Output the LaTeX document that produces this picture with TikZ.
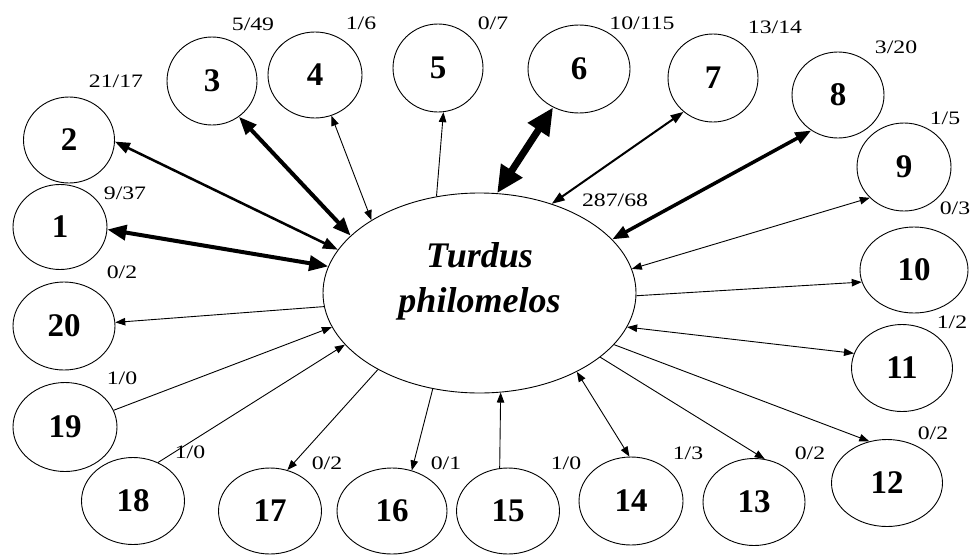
\documentclass[tikz,border=0pt]{standalone}
\usepackage{fontspec}
\setmainfont{Liberation Serif}
\newfontfamily\countfont[FakeStretch=1.25]{Liberation Serif}
\usetikzlibrary{arrows.meta,shapes.geometric}

\tikzset{
  site/.style={ellipse, draw, line width=0.9pt, inner sep=0pt,
    font=\fontsize{33}{33}\selectfont\bfseries},
  hub/.style={ellipse, draw, line width=0.9pt, inner sep=0pt,
    minimum width=313pt, minimum height=200pt},
  hubtext/.style={align=center, inner sep=0pt,
    font=\fontsize{36}{45}\selectfont\bfseries\itshape},
  count/.style={inner sep=0pt, font=\countfont\fontsize{19}{19}\selectfont},
  link/.style={line width=0.9pt, >={Triangle[length=10pt,width=7.5pt]}},
}

\begin{document}
\begin{tikzpicture}[x=1pt, y=-1pt]
  \path[use as bounding box] (0,0) rectangle (973,554);

  % central species
  \node[hub] (c) at (479.5,293) {};
  \node[hubtext] (ct) at (479.5,281) {Turdus\\philomelos};

  % surrounding sites
  \node[site, minimum width=94pt,  minimum height=85pt] (n1)  at (60,227)  {1};
  \node[site, minimum width=91pt,  minimum height=86pt] (n2)  at (69,140)  {2};
  \node[site, minimum width=90pt,  minimum height=88pt] (n3)  at (212,81)  {3};
  \node[site, minimum width=94pt,  minimum height=86pt] (n4)  at (315,75)  {4};
  \node[site, minimum width=90pt,  minimum height=88pt] (n5)  at (438,68)  {5};
  \node[site, minimum width=102pt, minimum height=88pt] (n6)  at (579,69)  {6};
  \node[site, minimum width=90pt,  minimum height=88pt] (n7)  at (713,78)  {7};
  \node[site, minimum width=92pt,  minimum height=86pt] (n8)  at (838,95)  {8};
  \node[site, minimum width=94pt,  minimum height=88pt] (n9)  at (904,167) {9};
  \node[site, minimum width=108pt, minimum height=86pt] (n10) at (914,270) {10};
  \node[site, minimum width=101pt, minimum height=87pt] (n11) at (902,368) {11};
  \node[site, minimum width=111pt, minimum height=87pt] (n12) at (887,483) {12};
  \node[site, minimum width=102pt, minimum height=87pt] (n13) at (754,502) {13};
  \node[site, minimum width=104pt, minimum height=88pt] (n14) at (631,501) {14};
  \node[site, minimum width=103pt, minimum height=86pt] (n15) at (508,511) {15};
  \node[site, minimum width=110pt, minimum height=86pt] (n16) at (392,511) {16};
  \node[site, minimum width=103pt, minimum height=86pt] (n17) at (270,511) {17};
  \node[site, minimum width=103pt, minimum height=87pt] (n18) at (133,501) {18};
  \node[site, minimum width=104pt, minimum height=89pt] (n19) at (65,427)  {19};
  \node[site, minimum width=102pt, minimum height=88pt] (n20) at (64,326)  {20};

  % counts
  \node[count] (k0)  at (615,200) {287/68};
  \node[count] (k1)  at (125,193) {9/37};
  \node[count] (k2)  at (116,81)  {21/17};
  \node[count] (k3)  at (253,24)  {5/49};
  \node[count] (k4)  at (361,23)  {1/6};
  \node[count] (k5)  at (493,23)  {0/7};
  \node[count] (k6)  at (642,23)  {10/115};
  \node[count] (k7)  at (775,27)  {13/14};
  \node[count] (k8)  at (896,47)  {3/20};
  \node[count] (k9)  at (945,118) {1/5};
  \node[count] (k10) at (955,208) {0/3};
  \node[count] (k11) at (952,322) {1/2};
  \node[count] (k12) at (933,433) {0/2};
  \node[count] (k13) at (810,453) {0/2};
  \node[count] (k14) at (688,453) {1/3};
  \node[count] (k15) at (566,463) {1/0};
  \node[count] (k16) at (446,463) {0/1};
  \node[count] (k17) at (327,463) {0/2};
  \node[count] (k18) at (190,452) {1/0};
  \node[count] (k19) at (122,378) {1/0};
  \node[count] (k20) at (122,272) {0/2};

  % heavy two-way links
  \draw[line width=4pt, {Triangle[length=19pt,width=15pt]}-{Triangle[length=19pt,width=15pt]}]
    (n1.-3) -- (c.170.6);
  \draw[line width=2.5pt, {Triangle[length=15pt,width=11pt]}-{Triangle[length=15pt,width=11pt]}]
    (n2.-2) -- (c.163.1);
  \draw[line width=4pt, {Triangle[length=18pt,width=14pt]}-{Triangle[length=18pt,width=14pt]}]
    (n3.-53.6) -- (c.156.2);
  \draw[line width=7pt, {Triangle[length=27pt,width=24pt]}-{Triangle[length=27pt,width=24pt]}]
    (n6.-124) -- (c.80);
  \draw[line width=2pt, {Triangle[length=13pt,width=9pt]}-{Triangle[length=13pt,width=9pt]}]
    (n7.-131) -- (c.51.9);
  \draw[line width=3.5pt, {Triangle[length=16pt,width=12pt]}-{Triangle[length=16pt,width=12pt]}]
    (n8.-127.5) -- (c.22.1);

  % thin two-way links
  \draw[link, <->] (n4.-68)    -- (c.146.3);
  \draw[link, <->] (n9.-138.8) -- (c.9.6);
  \draw[link, <->] (n11.163.9) -- (c.-13);
  \draw[link, <->] (n14.92)    -- (c.-39.8);

  % one-way links out of the centre
  \draw[link, ->] (c.114.9) -- (n5.-83.5);
  \draw[link, ->] (c.-1.5)  -- (n10.-167.9);
  \draw[link, ->] (c.-21)   -- (n12.113.8);
  \draw[link, ->] (c.-28.3) -- (n13.76.8);
  \draw[link, ->] (c.244.2) -- (n16.64.5);
  \draw[link, ->] (c.217.2) -- (n17.67.5);
  \draw[link, ->] (c.185.5) -- (n20.4.3);

  % one-way links into the centre
  \draw[link, ->] (n15.101.8) -- (c.-78.7);
  \draw[link, ->] (n18.57.9)  -- (c.201.8);
  \draw[link, ->] (n19.19.2)  -- (c.193.8);
\end{tikzpicture}
\end{document}
